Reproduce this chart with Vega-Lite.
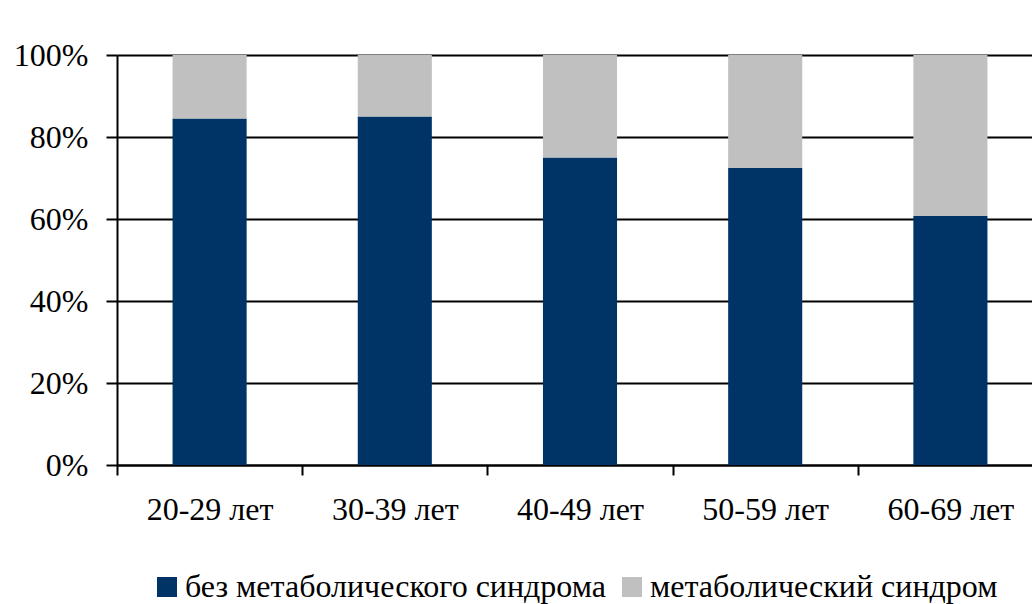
{
  "$schema": "https://vega.github.io/schema/vega-lite/v6.json",
  "autosize": "none",
  "width": 926,
  "height": 410,
  "padding": {"left": 117, "top": 55, "right": 0, "bottom": 139},
  "background": "white",
  "config": {
    "view": {"stroke": null},
    "font": "Liberation Serif"
  },
  "data": {
    "values": [
      {"age": "20-29 лет", "group": "без метаболического синдрома", "ord": 1, "value": 0.845},
      {"age": "20-29 лет", "group": "метаболический синдром", "ord": 2, "value": 0.155},
      {"age": "30-39 лет", "group": "без метаболического синдрома", "ord": 1, "value": 0.85},
      {"age": "30-39 лет", "group": "метаболический синдром", "ord": 2, "value": 0.15},
      {"age": "40-49 лет", "group": "без метаболического синдрома", "ord": 1, "value": 0.75},
      {"age": "40-49 лет", "group": "метаболический синдром", "ord": 2, "value": 0.25},
      {"age": "50-59 лет", "group": "без метаболического синдрома", "ord": 1, "value": 0.725},
      {"age": "50-59 лет", "group": "метаболический синдром", "ord": 2, "value": 0.275},
      {"age": "60-69 лет", "group": "без метаболического синдрома", "ord": 1, "value": 0.608},
      {"age": "60-69 лет", "group": "метаболический синдром", "ord": 2, "value": 0.392}
    ]
  },
  "mark": {"type": "bar", "width": {"band": 0.4}},
  "encoding": {
    "x": {
      "field": "age",
      "type": "nominal",
      "sort": null,
      "title": null,
      "scale": {"paddingInner": 0, "paddingOuter": 0},
      "axis": {
        "labelAngle": 0,
        "labelFontSize": 32,
        "labelColor": "#000",
        "labelPadding": 19,
        "tickBand": "extent",
        "tickColor": "#000",
        "tickWidth": 2,
        "tickSize": 10,
        "domainColor": "#000",
        "domainWidth": 2,
        "grid": false
      }
    },
    "y": {
      "field": "value",
      "type": "quantitative",
      "stack": "zero",
      "title": null,
      "scale": {"domain": [0, 1], "nice": false},
      "axis": {
        "values": [0, 0.2, 0.4, 0.6, 0.8, 1],
        "format": ".0%",
        "labelFontSize": 32,
        "labelColor": "#000",
        "labelPadding": 18,
        "tickColor": "#000",
        "tickWidth": 2,
        "tickSize": 11,
        "domainColor": "#000",
        "domainWidth": 2,
        "grid": true,
        "gridColor": "#000",
        "gridWidth": 2,
        "gridOpacity": 1
      }
    },
    "color": {
      "field": "group",
      "type": "nominal",
      "scale": {
        "domain": ["без метаболического синдрома", "метаболический синдром"],
        "range": ["#003366", "#C0C0C0"]
      },
      "legend": {
        "title": null,
        "orient": "none",
        "direction": "horizontal",
        "legendX": 34,
        "legendY": 516,
        "padding": 0,
        "symbolType": "square",
        "symbolSize": 400,
        "symbolStrokeWidth": 0,
        "labelFontSize": 32,
        "labelColor": "#000",
        "labelOffset": 2,
        "columnPadding": 10,
        "labelLimit": 600
      }
    },
    "order": {"field": "ord", "type": "quantitative"}
  }
}
